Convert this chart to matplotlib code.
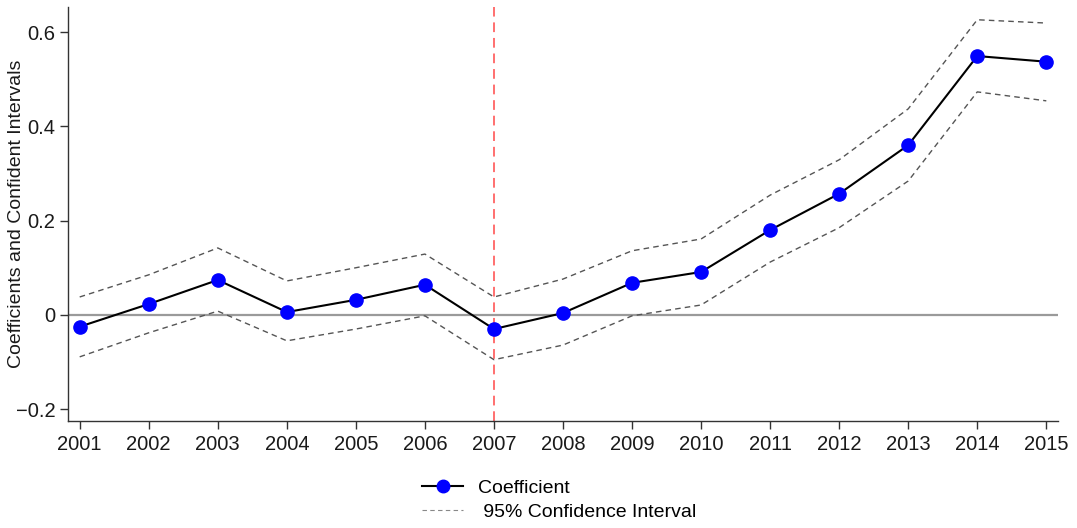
import matplotlib
matplotlib.use("Agg")
import matplotlib.pyplot as plt
from matplotlib.lines import Line2D

plt.rcParams['font.family'] = ['Liberation Sans', 'DejaVu Sans']

years = list(range(2001, 2016))
coef = [-0.025, 0.023, 0.074, 0.006, 0.032, 0.064, -0.030, 0.004, 0.068, 0.091,
        0.180, 0.257, 0.360, 0.549, 0.537]
upper = [0.038, 0.085, 0.142, 0.072, 0.100, 0.129, 0.038, 0.076, 0.136, 0.161,
         0.254, 0.329, 0.437, 0.626, 0.619]
lower = [-0.089, -0.038, 0.008, -0.055, -0.030, -0.002, -0.095, -0.064, -0.002, 0.021,
         0.112, 0.185, 0.284, 0.473, 0.454]
yticks = [-0.2, 0, 0.2, 0.4, 0.6]
ytick_labels = ["\u22120.2", "0", "0.2", "0.4", "0.6"]
event_year = 2007

fig = plt.figure(figsize=(10.77, 5.28), dpi=100)
ax = fig.add_axes([0.0631, 0.2027, 0.9193, 0.784])

ax.axhline(0, color='#9a9a9a', lw=1.6, zorder=1)
ax.axvline(event_year, color='#ff6f6f', lw=1.4, ls=(0, (5, 3)), zorder=1)
ax.plot(years, upper, color='#555555', lw=1.0, ls=(0, (4, 3)), zorder=2)
ax.plot(years, lower, color='#555555', lw=1.0, ls=(0, (4, 3)), zorder=2)
ax.plot(years, coef, color='black', lw=1.5, marker='o', markersize=9.5,
        markerfacecolor='#0000ff', markeredgecolor='#0000ff', zorder=3)

ax.set_xlim(2000.83, 2015.17)
ax.set_ylim(-0.225, 0.653)
ax.set_xticks(years)
ax.set_xticklabels([str(y) for y in years])
ax.set_yticks(yticks)
ax.set_yticklabels(ytick_labels)
ax.tick_params(axis='both', labelsize=14.5, direction='out', length=6, width=1.0,
               color='#333333', labelcolor='#1a1a1a')
ax.tick_params(axis='x', pad=4)
ax.tick_params(axis='y', pad=3)
ax.set_ylabel("Coefficients and Confident Intervals", fontsize=14, color='#1a1a1a')
ax.yaxis.set_label_coords(-0.043, 0.5)
for s in ['top', 'right']:
    ax.spines[s].set_visible(False)
for s in ['left', 'bottom']:
    ax.spines[s].set_color('#333333')
    ax.spines[s].set_linewidth(1.0)

handles = [
    Line2D([], [], color='black', lw=1.5, marker='o', markersize=9,
           markerfacecolor='#0000ff', markeredgecolor='#0000ff'),
    Line2D([], [], color='#888888', lw=0.8, ls=(0, (4, 3))),
]
fig.legend(handles, ["Coefficient", " 95% Confidence Interval"], loc='upper center',
           bbox_to_anchor=(0.519, 0.125), frameon=False, fontsize=14,
           handlelength=2.1, handletextpad=0.75, labelspacing=0.3,
           alignment='left')

fig.savefig("out.png", dpi=100)
